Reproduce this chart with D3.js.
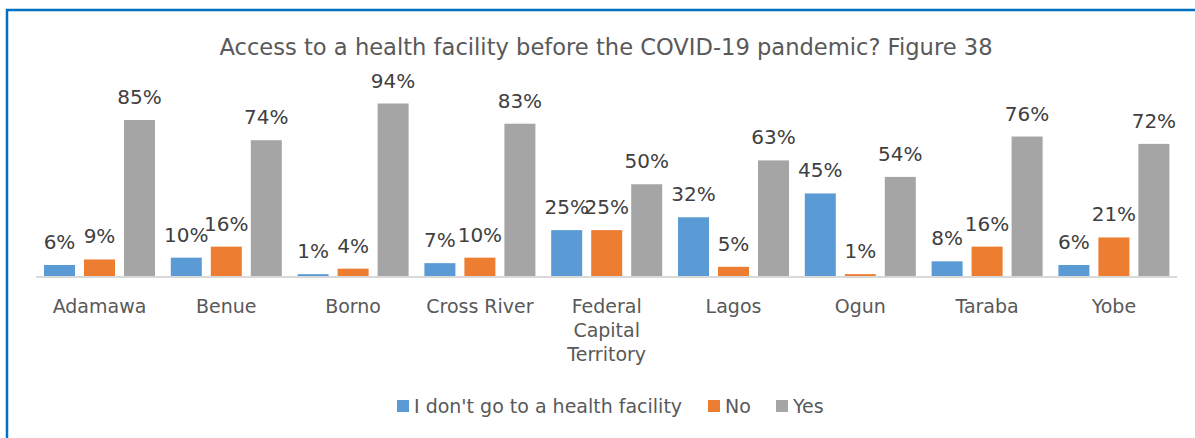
<!DOCTYPE html>
<html>
<head>
<meta charset="utf-8">
<script src="https://cdn.jsdelivr.net/npm/d3@7"></script>
<style>
  html, body { margin: 0; padding: 0; background: #fff; }
  svg { display: block; }
  text { font-family: "DejaVu Sans", Verdana, sans-serif; }
</style>
</head>
<body>
<script>
// Survey states along the category axis
const categories = ["Adamawa", "Benue", "Borno", "Cross River", "Federal Capital Territory", "Lagos", "Ogun", "Taraba", "Yobe"];
// Category labels split into lines as they wrap under the axis
const categoryLines = [["Adamawa"], ["Benue"], ["Borno"], ["Cross River"], ["Federal", "Capital", "Territory"], ["Lagos"], ["Ogun"], ["Taraba"], ["Yobe"]];

// Answer series (percent of respondents)
const seriesNames = ["I don't go to a health facility", "No", "Yes"];
const dontGo = [6, 10, 1, 7, 25, 32, 45, 8, 6];
const no     = [9, 16, 4, 10, 25, 5, 1, 16, 21];
const yes    = [85, 74, 94, 83, 50, 63, 54, 76, 72];
const seriesColors = ["#5B9BD5", "#ED7D31", "#A5A5A5"];

const title = "Access to a health facility before the COVID-19 pandemic? Figure 38";

const W = 1195, H = 438;
const svg = d3.select("body").append("svg").attr("width", W).attr("height", H);

// Blue chart frame (extends past the right and bottom edges)
svg.append("rect")
  .attr("x", 7).attr("y", 10)
  .attr("width", W + 20).attr("height", H + 20)
  .attr("fill", "#fff")
  .attr("stroke", "#0070C0").attr("stroke-width", 2.5);

// Title
svg.append("text")
  .attr("x", 606).attr("y", 55)
  .attr("text-anchor", "middle")
  .attr("fill", "#595959")
  .attr("font-size", 22.6)
  .text(title);

const x0 = d3.scaleBand().domain(categories).range([36.1, 1177.3]).padding(0);
const x1 = d3.scaleBand().domain(seriesNames).range([0, x0.bandwidth()])
  .paddingInner(0.225).paddingOuter(0.1975);
const y = d3.scaleLinear().domain([0, 100]).range([276, 92.5]);

const values = [dontGo, no, yes];
const rows = categories.map((c, i) => ({
  cat: c,
  vals: seriesNames.map((s, j) => ({ s, j, v: values[j][i] }))
}));

const groups = svg.append("g").selectAll("g").data(rows).join("g")
  .attr("transform", d => `translate(${x0(d.cat)},0)`);

groups.selectAll("rect").data(d => d.vals).join("rect")
  .attr("x", d => x1(d.s))
  .attr("y", d => y(d.v))
  .attr("width", x1.bandwidth())
  .attr("height", d => y(0) - y(d.v))
  .attr("fill", d => seriesColors[d.j]);

// Value labels above each bar
groups.selectAll("text.val").data(d => d.vals).join("text")
  .attr("class", "val")
  .attr("x", d => x1(d.s) + x1.bandwidth() / 2)
  .attr("y", d => y(d.v) - 16)
  .attr("text-anchor", "middle")
  .attr("fill", "#404040")
  .attr("font-size", 20)
  .text(d => d.v + "%");

// Category axis line
svg.append("line")
  .attr("x1", x0.range()[0]).attr("x2", x0.range()[1])
  .attr("y1", 277).attr("y2", 277)
  .attr("stroke", "#D9D9D9").attr("stroke-width", 2);

// Category labels
const catLabels = svg.append("g").selectAll("text").data(categories).join("text")
  .attr("x", d => x0(d) + x0.bandwidth() / 2)
  .attr("y", 313)
  .attr("text-anchor", "middle")
  .attr("fill", "#595959")
  .attr("font-size", 19);
catLabels.each(function(d, i) {
  d3.select(this).selectAll("tspan").data(categoryLines[i]).join("tspan")
    .attr("x", x0(d) + x0.bandwidth() / 2)
    .attr("dy", (t, k) => k === 0 ? 0 : 24)
    .text(t => t);
});

// Legend
const legendX = [397, 708, 776];
const legend = svg.append("g").selectAll("g").data(seriesNames).join("g")
  .attr("transform", (d, i) => `translate(${legendX[i]},400)`);
legend.append("rect")
  .attr("width", 12).attr("height", 12)
  .attr("fill", (d, i) => seriesColors[i]);
legend.append("text")
  .attr("x", 17).attr("y", 13)
  .attr("fill", "#595959")
  .attr("font-size", 19)
  .text(d => d);
</script>
</body>
</html>
